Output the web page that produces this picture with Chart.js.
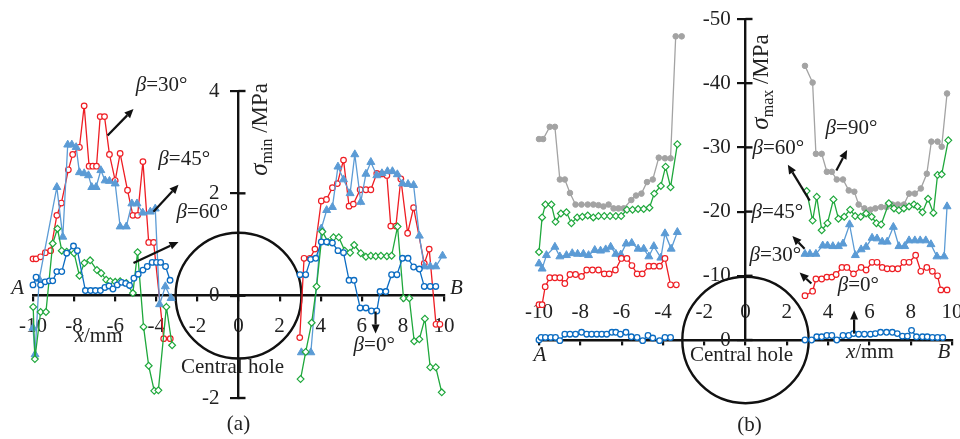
<!DOCTYPE html>
<html>
<head>
<meta charset="utf-8">
<script src="https://cdn.jsdelivr.net/npm/chart.js@4.4.1/dist/chart.umd.min.js"></script>
<style>
  html, body { margin: 0; padding: 0; background: #fff; }
  #wrap { position: relative; width: 960px; height: 439px; overflow: hidden; }
  canvas { position: absolute; top: 0; }
  #chartA { left: 0; }
  #chartB { left: 480px; }
</style>
</head>
<body>
<div id="wrap">
  <canvas id="chartA" width="480" height="439"></canvas>
  <canvas id="chartB" width="480" height="439"></canvas>
</div>
<script>
// ---- panel (a): sigma_min, MPa ----
const aRed30X_L = [-10, -9.85, -9.63, -9.4, -9.14, -8.84, -8.62, -8.28, -8.07, -7.74, -7.51, -7.27, -7.09, -6.91, -6.73, -6.52, -6.28, -6.0, -5.76, -5.4, -5.14, -4.91, -4.65, -4.37, -4.13, -3.64, -3.32];
const aRed30Y_L = [0.72, 0.72, 0.76, 0.84, 0.88, 1.57, 1.81, 2.46, 2.76, 2.9, 3.71, 2.53, 2.53, 2.53, 3.5, 3.5, 2.76, 2.25, 2.78, 2.06, 1.57, 1.57, 2.62, 1.04, 1.04, -0.84, -0.84];
const aRed30X_R = [2.98, 3.19, 3.48, 3.72, 4.03, 4.28, 4.57, 4.81, 5.11, 5.38, 5.59, 5.92, 6.2, 6.44, 6.73, 6.98, 7.22, 7.41, 7.66, 7.9, 8.23, 8.52, 9.04, 9.28, 9.61, 9.8];
const aRed30Y_R = [-0.82, 0.73, 0.73, 0.91, 1.85, 1.88, 2.11, 2.19, 2.65, 1.75, 1.79, 2.07, 2.07, 2.07, 2.39, 2.38, 2.35, 1.36, 1.36, 2.28, 1.22, 1.72, 0.63, 0.91, -0.56, -0.56];

const aBlue45X_L = [-10.0, -9.9, -9.7, -8.84, -8.55, -8.31, -8.11, -7.9, -7.74, -7.51, -7.3, -7.14, -6.93, -6.7, -6.49, -6.28, -6.0, -5.76, -5.46, -5.19, -4.94, -4.66, -4.29, -4.05, -3.84, -3.56, -3.28];
const aBlue45Y_L = [-0.63, -1.15, 0.32, 2.12, 1.15, 2.95, 2.95, 2.9, 2.41, 2.39, 2.35, 2.12, 2.12, 2.45, 2.25, 2.24, 2.19, 1.35, 1.35, 1.8, 1.8, 1.62, 1.64, 1.7, -0.17, 0.18, -0.05];
const aBlue45X_R = [3.06, 3.52, 4.03, 4.29, 4.57, 4.84, 5.11, 5.43, 5.66, 5.95, 6.2, 6.44, 6.73, 6.98, 7.25, 7.49, 7.73, 7.98, 8.25, 8.52, 8.8, 9.04, 9.33, 9.6, 9.93];
const aBlue45Y_R = [-1.11, -1.11, 1.31, 1.67, 1.73, 2.52, 2.27, 2.0, 2.76, 1.83, 2.38, 2.61, 2.35, 2.39, 2.43, 2.43, 2.37, 2.19, 2.18, 2.16, 1.17, 0.57, 0.57, 0.57, 0.78];

const aGreen60X_L = [-9.99, -9.91, -9.63, -9.37, -9.04, -8.81, -8.6, -8.36, -8.0, -7.74, -7.5, -7.22, -6.89, -6.68, -6.44, -6.24, -6.0, -5.76, -5.46, -5.14, -4.91, -4.62, -4.37, -4.1, -3.9, -3.51, -3.23];
const aGreen60Y_L = [-0.22, -1.24, -0.32, -0.32, 1.02, 1.31, 0.88, 0.86, 0.83, 0.39, 0.64, 0.69, 0.5, 0.44, 0.31, 0.28, 0.27, 0.28, 0.25, 0.05, 0.85, -0.61, -1.37, -1.86, -1.85, -0.22, -0.97];
const aGreen60X_R = [3.02, 3.27, 3.56, 3.8, 4.08, 4.36, 4.62, 4.88, 5.17, 5.43, 5.63, 5.95, 6.2, 6.44, 6.68, 6.93, 7.22, 7.45, 7.74, 8.03, 8.31, 8.55, 8.8, 9.07, 9.33, 9.6, 9.89];
const aGreen60Y_R = [-1.63, -1.1, -0.53, 0.18, 1.25, 1.05, 1.14, 1.14, 0.88, 0.84, 0.99, 0.83, 0.76, 0.78, 0.77, 0.78, 0.77, 0.78, 1.35, -0.05, -0.05, -0.89, -0.85, -0.45, -1.4, -1.4, -1.89];

const aNavy0X_L = [-10.0, -9.85, -9.63, -9.41, -9.2, -9.04, -8.84, -8.6, -8.36, -8.03, -7.84, -7.45, -7.2, -6.96, -6.72, -6.5, -6.3, -6.11, -5.9, -5.69, -5.49, -5.3, -5.09, -4.88, -4.65, -4.44, -4.2, -3.99, -3.79, -3.55, -3.33];
const aNavy0Y_L = [0.21, 0.36, 0.21, 0.27, 0.29, 0.29, 0.47, 0.47, 0.83, 0.97, 0.88, 0.1, 0.1, 0.1, 0.1, 0.16, 0.19, 0.13, 0.21, 0.26, 0.24, 0.2, 0.34, 0.42, 0.5, 0.57, 0.65, 0.65, 0.65, 0.57, 0.3];
const aNavy0X_R = [2.99, 3.27, 3.51, 3.76, 4.03, 4.29, 4.57, 4.84, 5.11, 5.38, 5.62, 5.92, 6.2, 6.47, 6.73, 6.89, 7.17, 7.45, 7.71, 7.98, 8.25, 8.52, 8.8, 9.04, 9.33, 9.6];
const aNavy0Y_R = [0.41, 0.41, 0.71, 0.73, 1.05, 1.05, 1.03, 0.88, 0.84, 0.3, 0.3, -0.24, -0.24, -0.3, -0.3, 0.08, 0.08, 0.41, 0.41, 0.73, 0.73, 0.56, 0.52, 0.18, 0.18, 0.18];

// ---- panel (b): sigma_max, MPa ----
const bGrey90X_L = [-10.0, -9.8, -9.48, -9.23, -8.99, -8.75, -8.5, -8.23, -7.94, -7.64, -7.37, -7.12, -6.88, -6.63, -6.39, -6.15, -5.9, -5.53, -5.3, -5.04, -4.77, -4.49, -4.2, -3.9, -3.63, -3.38, -3.09];
const bGrey90Y_L = [-31.3, -31.3, -33.2, -33.2, -25.0, -25.0, -22.9, -21.1, -21.1, -21.1, -21.1, -21.0, -20.8, -21.1, -20.5, -20.5, -20.5, -21.8, -22.5, -22.8, -24.6, -25.0, -28.4, -28.3, -28.3, -47.3, -47.3];
const bGrey90X_R = [2.88, 3.25, 3.41, 3.69, 3.94, 4.18, 4.42, 4.72, 5.0, 5.27, 5.48, 5.76, 6.05, 6.29, 6.57, 6.83, 7.11, 7.38, 7.67, 7.92, 8.2, 8.49, 8.78, 9.0, 9.3, 9.5, 9.76];
const bGrey90Y_R = [-42.7, -40.1, -29.0, -29.0, -26.2, -26.2, -25.0, -25.0, -23.3, -23.1, -21.1, -20.5, -20.3, -20.5, -20.7, -20.7, -21.1, -21.1, -21.1, -22.8, -22.8, -23.6, -25.9, -30.9, -30.9, -30.1, -38.4];

const bGreen60X_L = [-10.0, -9.85, -9.69, -9.4, -9.2, -8.94, -8.67, -8.43, -8.15, -7.9, -7.64, -7.37, -7.12, -6.84, -6.56, -6.28, -6.02, -5.74, -5.47, -5.2, -4.93, -4.65, -4.42, -4.1, -3.87, -3.63, -3.3];
const bGreen60Y_L = [-13.7, -19.1, -21.1, -21.1, -18.4, -19.7, -19.9, -18.2, -19.1, -19.2, -19.4, -19.1, -19.3, -19.3, -19.3, -19.3, -19.3, -20.3, -20.3, -20.4, -20.4, -20.6, -22.8, -24.0, -27.0, -23.8, -30.5];
const bGreen60X_R = [2.96, 3.25, 3.45, 3.69, 3.97, 4.26, 4.5, 4.78, 5.07, 5.31, 5.58, 5.84, 6.11, 6.34, 6.57, 6.94, 7.19, 7.43, 7.67, 7.92, 8.16, 8.33, 8.57, 8.84, 9.1, 9.3, 9.5, 9.82];
const bGreen60Y_R = [-23.2, -18.6, -22.3, -17.1, -18.2, -21.9, -18.9, -19.2, -20.3, -19.3, -19.2, -19.7, -19.2, -18.2, -18.0, -21.3, -20.5, -20.2, -20.5, -20.8, -21.1, -20.8, -19.9, -22.0, -19.8, -25.7, -25.8, -31.1];

const bBlue45X_L = [-10.0, -9.85, -9.64, -9.23, -8.99, -8.67, -8.39, -8.13, -7.85, -7.6, -7.3, -7.02, -6.77, -6.53, -6.28, -6.04, -5.78, -5.51, -5.2, -4.93, -4.68, -4.44, -4.1, -3.9, -3.6, -3.3];
const bBlue45Y_L = [-11.9, -11.1, -13.2, -14.5, -13.0, -13.2, -13.5, -13.4, -13.4, -13.2, -14.0, -13.9, -14.1, -14.5, -13.4, -13.3, -15.0, -15.1, -14.2, -14.2, -13.0, -14.6, -12.8, -16.6, -14.2, -16.8];
const bBlue45X_R = [2.88, 3.12, 3.41, 3.74, 3.97, 4.23, 4.5, 4.72, 5.04, 5.32, 5.6, 5.84, 6.13, 6.37, 6.62, 6.86, 7.16, 7.43, 7.71, 7.92, 8.2, 8.46, 8.73, 8.98, 9.27, 9.62, 9.76];
const bBlue45Y_R = [-13.4, -13.4, -13.4, -14.7, -14.7, -14.6, -14.6, -15.0, -18.0, -13.2, -14.1, -14.5, -15.9, -15.8, -15.3, -15.3, -17.6, -14.6, -14.6, -15.5, -15.5, -15.5, -15.5, -14.9, -13.0, -13.0, -20.8];

const bRed30X_L = [-10.0, -9.85, -9.7, -9.48, -9.23, -8.99, -8.75, -8.5, -8.23, -7.94, -7.69, -7.41, -7.12, -6.84, -6.6, -6.3, -6.01, -5.74, -5.5, -5.25, -5.0, -4.68, -4.44, -4.16, -3.9, -3.63, -3.35];
const bRed30Y_L = [-5.5, -5.5, -8.3, -9.7, -9.7, -9.7, -8.8, -10.2, -10.2, -9.9, -10.9, -10.9, -10.9, -10.3, -10.3, -10.9, -12.7, -12.7, -11.6, -10.3, -10.3, -11.5, -11.5, -11.5, -12.7, -8.6, -8.6];
const bRed30X_R = [2.88, 3.25, 3.41, 3.69, 3.94, 4.18, 4.39, 4.67, 4.91, 5.23, 5.6, 5.84, 6.13, 6.37, 6.62, 6.86, 7.11, 7.38, 7.67, 7.92, 8.24, 8.49, 8.78, 9.05, 9.3, 9.46, 9.76];
const bRed30Y_R = [-6.9, -7.6, -9.5, -9.5, -9.8, -9.8, -10.2, -11.3, -11.3, -10.3, -11.3, -10.9, -12.1, -12.1, -11.3, -11.1, -11.1, -11.1, -12.1, -12.1, -13.2, -10.7, -11.3, -10.7, -10.0, -7.8, -7.8];

const bNavy0X_L = [-10.0, -9.9, -9.69, -9.43, -9.2, -8.99, -8.75, -8.5, -8.23, -7.94, -7.69, -7.45, -7.2, -6.96, -6.72, -6.47, -6.28, -6.06, -5.79, -5.53, -5.25, -4.98, -4.72, -4.49, -4.16, -3.9, -3.63];
const bNavy0Y_L = [0, -0.4, -0.4, -0.4, -0.4, 0.1, -0.9, -0.9, -0.9, -1.2, -0.9, -0.9, -0.9, -0.9, -0.9, -1.2, -1.2, -0.9, -1.2, -0.5, -0.4, 0.1, -0.7, -0.3, 0.1, -0.4, -0.4];
const bNavy0X_R = [2.88, 3.2, 3.45, 3.69, 3.94, 4.18, 4.42, 4.72, 5.0, 5.23, 5.48, 5.76, 6.05, 6.29, 6.54, 6.83, 7.11, 7.35, 7.6, 7.84, 8.04, 8.28, 8.57, 8.8, 9.05, 9.3, 9.55];
const bNavy0Y_R = [0, 0, -0.5, -0.5, -0.7, -0.7, 0, -0.7, -0.7, -1.0, -0.9, -0.9, -0.9, -1.0, -1.2, -1.2, -1.2, -1.0, -0.6, -0.6, -1.5, -0.5, -0.5, -0.5, -0.4, -0.4, -0.4];

const holeRadius = 3.06;
const serif = "'Liberation Serif', 'Times New Roman', serif";

const pts = (xs, ys) => xs.map((x, i) => ({ x: x, y: ys[i] }));

const styles = {
    red:   { borderColor: '#ee1d23', pointBackgroundColor: '#fff', pointStyle: 'circle', pointRadius: 2.8, pointBorderWidth: 1.2 },
    blue:  { borderColor: '#5b9bd5', pointBackgroundColor: '#5b9bd5', pointStyle: 'triangle', pointRadius: 4.6, pointBorderWidth: 1 },
    green: { borderColor: '#1fa83c', pointBackgroundColor: '#fff', pointStyle: 'rectRot', pointRadius: 3.4, pointBorderWidth: 1.2 },
    navy:  { borderColor: '#0b6cc2', pointBackgroundColor: '#fff', pointStyle: 'circle', pointRadius: 2.8, pointBorderWidth: 1.3 },
    grey:  { borderColor: '#a3a3a3', pointBackgroundColor: '#a3a3a3', pointStyle: 'circle', pointRadius: 2.8, pointBorderWidth: 1 }
};

function series(xs, ys, style) {
    const s = styles[style];
    return {
        data: pts(xs, ys),
        showLine: true,
        borderWidth: 1.3,
        borderColor: s.borderColor,
        pointBorderColor: s.borderColor,
        pointBackgroundColor: s.pointBackgroundColor,
        pointStyle: s.pointStyle,
        pointRadius: s.pointRadius,
        pointBorderWidth: s.pointBorderWidth,
        clip: false
    };
}

function arrow(ctx, x1, y1, x2, y2) {
    const a = Math.atan2(y2 - y1, x2 - x1), h = 9, w = 4;
    const bx = x2 - h * Math.cos(a), by = y2 - h * Math.sin(a);
    ctx.save();
    ctx.strokeStyle = '#111';
    ctx.fillStyle = '#111';
    ctx.lineWidth = 2.2;
    ctx.beginPath(); ctx.moveTo(x1, y1); ctx.lineTo(bx, by); ctx.stroke();
    ctx.beginPath();
    ctx.moveTo(x2, y2);
    ctx.lineTo(bx + w * Math.sin(a), by - w * Math.cos(a));
    ctx.lineTo(bx - w * Math.sin(a), by + w * Math.cos(a));
    ctx.closePath(); ctx.fill();
    ctx.restore();
}

function betaText(ctx, x, y, label) {
    ctx.save();
    ctx.fillStyle = '#222';
    ctx.textBaseline = 'middle';
    ctx.textAlign = 'left';
    ctx.font = 'italic 21px ' + serif;
    ctx.fillText('β', x, y);
    const w = ctx.measureText('β').width;
    ctx.font = '21px ' + serif;
    ctx.fillText(label, x + w, y);
    ctx.restore();
}

function plainText(ctx, x, y, text, italic) {
    ctx.save();
    ctx.fillStyle = '#222';
    ctx.textBaseline = 'middle';
    ctx.textAlign = 'center';
    ctx.font = (italic ? 'italic ' : '') + '21px ' + serif;
    ctx.fillText(text, x, y);
    ctx.restore();
}

function xmmText(ctx, x, y) {
    ctx.save();
    ctx.fillStyle = '#222';
    ctx.textBaseline = 'middle';
    ctx.font = 'italic 21px ' + serif;
    const w1 = ctx.measureText('x').width;
    ctx.font = '21px ' + serif;
    const w2 = ctx.measureText('/mm').width;
    const left = x - (w1 + w2) / 2;
    ctx.textAlign = 'left';
    ctx.font = 'italic 21px ' + serif;
    ctx.fillText('x', left, y);
    ctx.font = '21px ' + serif;
    ctx.fillText('/mm', left + w1, y);
    ctx.restore();
}

function yTitle(ctx, cx, cy, sub) {
    ctx.save();
    ctx.translate(cx, cy);
    ctx.rotate(-Math.PI / 2);
    ctx.fillStyle = '#222';
    ctx.textBaseline = 'middle';
    ctx.textAlign = 'left';
    ctx.font = 'italic 25px ' + serif;
    const w1 = ctx.measureText('σ').width;
    ctx.font = '16px ' + serif;
    const w2 = ctx.measureText(sub).width;
    ctx.font = '23px ' + serif;
    const w3 = ctx.measureText(' /MPa').width;
    let x = -(w1 + w2 + w3) / 2;
    ctx.font = 'italic 25px ' + serif;
    ctx.fillText('σ', x, 0);
    x += w1;
    ctx.font = '16px ' + serif;
    ctx.fillText(sub, x, 7);
    x += w2;
    ctx.font = '23px ' + serif;
    ctx.fillText(' /MPa', x, 0);
    ctx.restore();
}

// decorations placed in data units through the chart's own scales
function decorPlugin(deco) {
    return {
        id: 'decor',
        beforeDatasetsDraw(chart) {
            const ctx = chart.ctx, xs = chart.scales.x, ys = chart.scales.y;
            const cx = xs.getPixelForValue(0), cy = ys.getPixelForValue(0);
            const r = xs.getPixelForValue(holeRadius) - cx;
            ctx.save();
            ctx.strokeStyle = '#111';
            ctx.lineWidth = 2.4;
            ctx.beginPath();
            ctx.arc(cx, cy, r, 0, Math.PI * 2);
            ctx.stroke();
            // right half of the crossing y ticks
            ctx.lineWidth = 2.4;
            ys.ticks.forEach(t => {
                const py = ys.getPixelForValue(t.value);
                ctx.beginPath(); ctx.moveTo(cx, py); ctx.lineTo(cx + 7, py); ctx.stroke();
            });
            ctx.restore();
        },
        afterDraw(chart) {
            const ctx = chart.ctx, xs = chart.scales.x, ys = chart.scales.y;
            const X = v => xs.getPixelForValue(v), Y = v => ys.getPixelForValue(v);
            deco.arrows.forEach(a => arrow(ctx, X(a[0]), Y(a[1]), X(a[2]), Y(a[3])));
            deco.betas.forEach(b => betaText(ctx, X(b[0]), Y(b[1]), b[2]));
            deco.texts.forEach(t => plainText(ctx, X(t[0]), Y(t[1]), t[2], t[3]));
            xmmText(ctx, X(deco.xmm[0]), Y(deco.xmm[1]));
            yTitle(ctx, X(deco.ytitle[0]), Y(deco.ytitle[1]), deco.ytitle[2]);
        }
    };
}

function axisOpts(extra) {
    const base = {
        type: 'linear',
        ticks: { color: '#222', font: { family: serif, size: 21 }, autoSkip: false, maxRotation: 0 },
        grid: { display: true, drawOnChartArea: false, drawTicks: true, color: '#111', lineWidth: 2.2 },
        border: { display: true, color: '#111', width: 2.4 },
        afterFit: s => { s.paddingLeft = 0; s.paddingRight = 0; s.paddingTop = 0; s.paddingBottom = 0; }
    };
    const o = Object.assign({}, base, extra);
    o.ticks = Object.assign({}, base.ticks, extra.ticks || {});
    o.grid = Object.assign({}, base.grid, extra.grid || {});
    return o;
}

const commonOpts = {
    responsive: false,
    animation: false,
    events: [],
    plugins: { legend: { display: false }, tooltip: { enabled: false } }
};

new Chart(document.getElementById('chartA'), {
    type: 'scatter',
    data: {
        datasets: [
            series(aNavy0X_L, aNavy0Y_L, 'navy'), series(aNavy0X_R, aNavy0Y_R, 'navy'),
            series(aGreen60X_L, aGreen60Y_L, 'green'), series(aGreen60X_R, aGreen60Y_R, 'green'),
            series(aBlue45X_L, aBlue45Y_L, 'blue'), series(aBlue45X_R, aBlue45Y_R, 'blue'),
            series(aRed30X_L, aRed30Y_L, 'red'), series(aRed30X_R, aRed30Y_R, 'red')
        ]
    },
    options: Object.assign({}, commonOpts, {
        layout: { padding: { left: 33, right: 36, top: 91, bottom: 41 } },
        scales: {
            x: axisOpts({ position: { y: 0 }, min: -10, max: 10, ticks: { stepSize: 2, padding: 13 }, grid: { tickLength: 5 } }),
            // dynamic-position y axes ignore ticks.padding, so the gap is added as spacing
            y: axisOpts({ position: { x: 0 }, min: -2, max: 4, ticks: { stepSize: 2, callback: v => v + '\u2002\u2009\u2009' }, grid: { tickLength: 7 } })
        }
    }),
    plugins: [decorPlugin({
        arrows: [[-6.37, 3.13, -5.11, 3.65], [-4.14, 1.64, -2.92, 2.17], [-5.11, 0.64, -2.92, 1.05], [6.67, -0.31, 6.67, -0.74]],
        betas: [[-5.0, 4.1, '=30°'], [-3.9, 2.66, '=45°'], [-3.02, 1.62, '=60°'], [5.6, -0.98, '=0°']],
        texts: [[-10.75, 0.14, 'A', true], [10.6, 0.14, 'B', true], [-0.29, -1.41, 'Central hole', false], [0, -2.52, '(a)', false]],
        xmm: [-6.81, -0.8],
        ytitle: [1.07, 3.25, 'min']
    })]
});

new Chart(document.getElementById('chartB'), {
    type: 'scatter',
    data: {
        datasets: [
            series(bNavy0X_L, bNavy0Y_L, 'navy'), series(bNavy0X_R, bNavy0Y_R, 'navy'),
            series(bRed30X_L, bRed30Y_L, 'red'), series(bRed30X_R, bRed30Y_R, 'red'),
            series(bBlue45X_L, bBlue45Y_L, 'blue'), series(bBlue45X_R, bBlue45Y_R, 'blue'),
            series(bGreen60X_L, bGreen60Y_L, 'green'), series(bGreen60X_R, bGreen60Y_R, 'green'),
            series(bGrey90X_L, bGrey90Y_L, 'grey'), series(bGrey90X_R, bGrey90Y_R, 'grey')
        ]
    },
    options: Object.assign({}, commonOpts, {
        layout: { padding: { left: 59, right: 8, top: 19, bottom: 99 } },
        scales: {
            x: axisOpts({ position: { y: 0 }, min: -10, max: 10, ticks: { stepSize: 2, padding: -44 }, grid: { tickLength: 4 } }),
            y: axisOpts({ position: { x: 0 }, min: -50, max: 0, reverse: true, ticks: { stepSize: 10, callback: v => v + '\u2002\u2009' }, grid: { tickLength: 7 } })
        }
    }),
    plugins: [decorPlugin({
        arrows: [[4.4, -26.4, 4.92, -29.6], [3.11, -21.7, 2.05, -27.3], [2.86, -14.2, 2.27, -16.2], [3.19, -8.8, 2.62, -10.5], [5.26, -1.0, 5.26, -4.6]],
        betas: [[3.88, -32.9, '=90°'], [0.34, -29.8, '=60°'], [0.29, -19.8, '=45°'], [0.19, -13.1, '=30°'], [4.47, -8.5, '=0°']],
        texts: [[-9.95, 2.45, 'A', true], [9.61, 2.0, 'B', true], [-0.19, 2.45, 'Central hole', false], [0.19, 13.3, '(b)', false]],
        xmm: [6.02, 2.0],
        ytitle: [0.78, -40.2, 'max']
    })]
});
</script>
</body>
</html>
